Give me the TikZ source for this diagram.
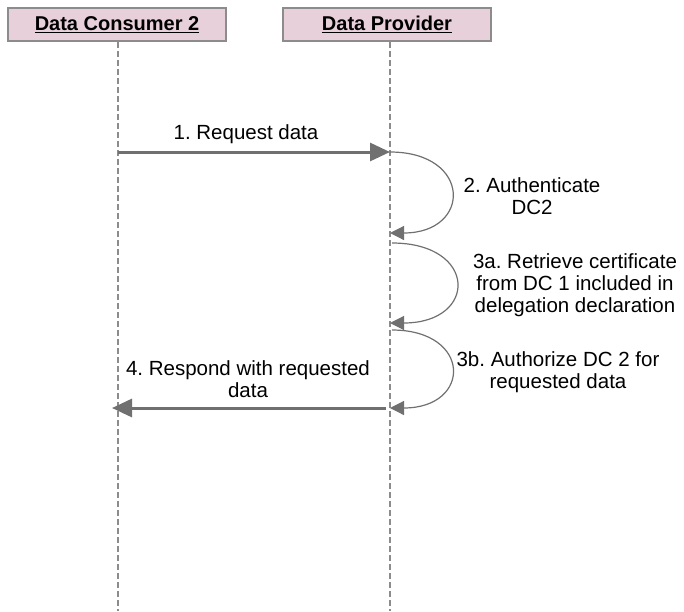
\documentclass[tikz,border=0pt]{standalone}
\usepackage{fontspec}
\setmainfont{Liberation Sans}
\usetikzlibrary{arrows.meta}

\definecolor{headpink}{RGB}{232,208,218}
\definecolor{headgray}{RGB}{140,140,140}
\definecolor{msggray}{RGB}{112,112,112}

\begin{document}
\frenchspacing
\begin{tikzpicture}[x=1pt, y=-1pt,
    actor/.style={draw=headgray, line width=2.5pt, fill=headpink, minimum height=33pt, inner sep=0pt, font=\fontsize{20}{22}\selectfont\bfseries},
    lifeline/.style={headgray, line width=2pt, dash pattern=on 6pt off 3pt},
    msg/.style={msggray, line width=3pt, -{Triangle[length=20pt,width=18pt]}},
    selfmsg/.style={msggray, line width=1.2pt, -{Triangle[length=14pt,width=14pt]}},
    note/.style={align=center, inner sep=0pt, font=\fontsize{20.5}{22}\selectfont}]
  \useasboundingbox (0,0) rectangle (684,611);

  % Actors
  \node[actor, minimum width=218pt] (dc) at (117,24.5) {\underline{Data Consumer 2}};
  \node[actor, minimum width=208pt] (dp) at (387,24.5) {\underline{Data Provider}};

  % Lifelines
  \coordinate (dcend) at (118,611);
  \coordinate (dpend) at (390,611);
  \draw[lifeline] (dc.south -| dcend) -- (dcend);
  \draw[lifeline] (dp.south -| dpend) -- (dpend);

  % Message points
  \coordinate (dc1) at (118,152);
  \coordinate (dp1) at (390,152);
  \coordinate (dp2) at (390,233);
  \coordinate (dp3) at (392,243);
  \coordinate (dp4) at (390,323);
  \coordinate (dp5) at (392,330);
  \coordinate (dp6) at (390,408);
  \coordinate (dp7) at (386,408);
  \coordinate (dc2) at (112,408);

  % Messages
  \draw[msg] (dc1) -- (dp1);
  \draw[selfmsg] (dp1) .. controls (472,152) and (472,233) .. (dp2);
  \draw[selfmsg] (dp3) .. controls (478,243) and (478,323) .. (dp4);
  \draw[selfmsg] (dp5) .. controls (472,330) and (472,408) .. (dp6);
  \draw[msg] (dp7) -- (dc2);

  % Labels
  \node[note] (l1) at (246,134) {1. Request data};
  \node[note] (l2) at (532,196) {2. Authenticate\\DC2};
  \node[note] (l3a) at (575,285) {3a. Retrieve certificate\\from DC 1 included in\\delegation declaration};
  \node[note] (l3b) at (558,372) {3b. Authorize DC 2 for\\requested data};
  \node[note] (l4) at (248,379) {4. Respond with requested\\data};
\end{tikzpicture}
\end{document}
